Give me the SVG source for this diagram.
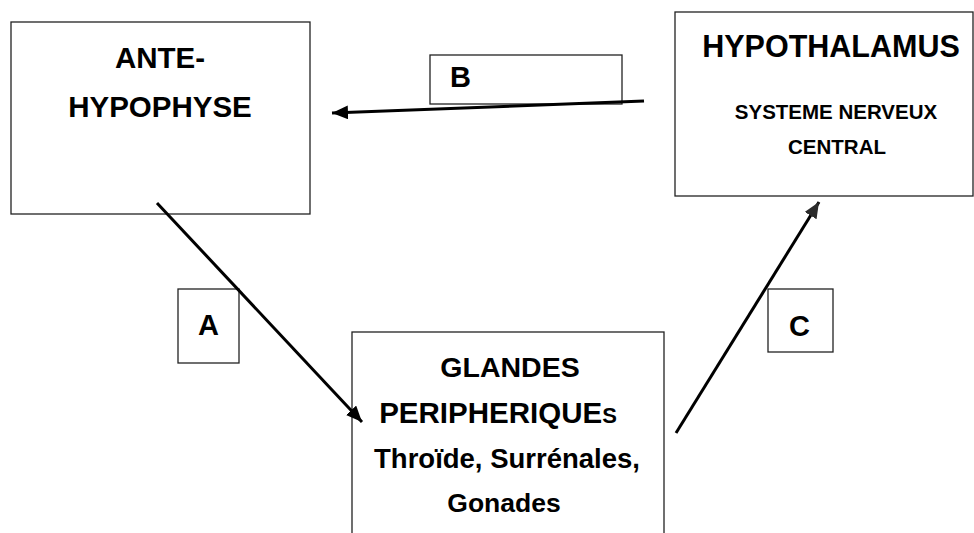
<svg xmlns="http://www.w3.org/2000/svg" width="974" height="533" viewBox="0 0 974 533">
<style>
.box{fill:#fff;stroke:#222;stroke-width:1.3}
.t{font-family:"Liberation Sans",Arial,sans-serif;font-weight:bold;fill:#000}
.m{text-anchor:middle}
.ln{fill:none;stroke:#000;stroke-width:3}
</style>
<defs>
<marker id="ah" markerUnits="userSpaceOnUse" markerWidth="18" markerHeight="14" refX="16" refY="7" orient="auto">
<path d="M0,0 L16,7 L0,14 Z" fill="#000"/>
</marker>
<marker id="ahg" markerUnits="userSpaceOnUse" markerWidth="18" markerHeight="14" refX="16" refY="7" orient="auto">
<path d="M0,0 L16,7 L0,14 Z" fill="#2b2b2b"/>
</marker>
</defs>
<g id="ante-hypophyse">
<rect class="box" x="11" y="22" width="299" height="192"/>
<text class="t m" x="160" y="68" font-size="29.5">ANTE-</text>
<text class="t m" x="160" y="117" font-size="29.5">HYPOPHYSE</text>
</g>
<g id="hypothalamus">
<rect class="box" x="675" y="12" width="298" height="184"/>
<text class="t m" x="831" y="57" font-size="30.5">HYPOTHALAMUS</text>
<text class="t m" x="836" y="119" font-size="20.5">SYSTEME NERVEUX</text>
<text class="t m" x="837" y="154" font-size="20.5">CENTRAL</text>
</g>
<g id="glandes">
<rect class="box" x="352" y="332" width="312" height="212"/>
<text class="t m" x="510" y="377" font-size="28.5">GLANDES</text>
<text class="t m" x="498" y="423" font-size="29.5">PERIPHERIQUE<tspan font-size="22">S</tspan></text>
<text class="t m" x="507" y="468" font-size="27.5">Throïde, Surrénales,</text>
<text class="t m" x="504" y="512" font-size="26.5">Gonades</text>
</g>
<g id="label-b">
<rect class="box" x="430" y="55" width="192" height="49"/>
<text class="t" x="450" y="87" font-size="29">B</text>
</g>
<g id="label-a">
<rect class="box" x="178" y="289" width="61" height="74"/>
<text class="t" x="198" y="335" font-size="29">A</text>
</g>
<g id="label-c">
<rect class="box" x="768" y="289" width="65" height="63"/>
<text class="t" x="789" y="336" font-size="29">C</text>
</g>
<g id="connectors">
<line class="ln" x1="644" y1="101" x2="332" y2="113" marker-end="url(#ah)"/>
<line class="ln" x1="157" y1="203" x2="362" y2="422" marker-end="url(#ah)"/>
<line class="ln" x1="676" y1="433" x2="819" y2="202" stroke="#2b2b2b" marker-end="url(#ahg)"/>
</g>
</svg>
